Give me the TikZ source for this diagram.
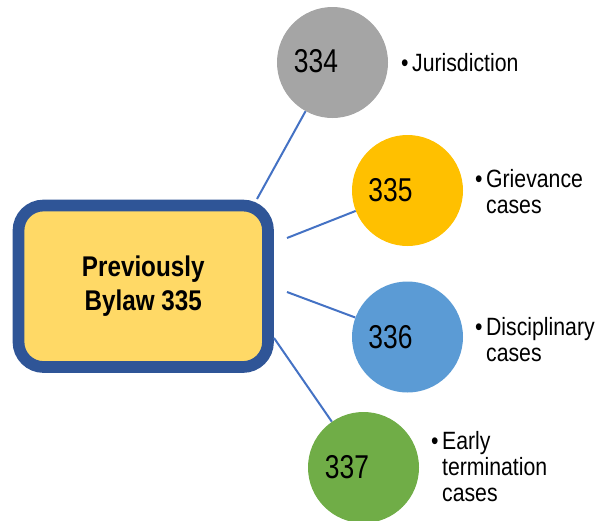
\documentclass[tikz,border=0pt]{standalone}
\usepackage{fontspec}
\setmainfont[FakeStretch=0.85]{Liberation Sans}
\newfontfamily\numfont[FakeStretch=0.8]{Liberation Sans}
\definecolor{boxborder}{HTML}{2F5597}
\definecolor{boxfill}{HTML}{FFD966}
\definecolor{linkblue}{HTML}{4472C4}
\definecolor{cgray}{HTML}{A5A5A5}
\definecolor{cyellow}{HTML}{FFC000}
\definecolor{cblue}{HTML}{5B9BD5}
\definecolor{cgreen}{HTML}{70AD47}
\tikzset{
  mainbox/.style={draw=boxborder, fill=boxfill, line width=11.7pt, rounded corners=25pt,
    rectangle, minimum width=249.5pt, minimum height=161.5pt, inner sep=0pt,
    font=\bfseries\fontsize{28.5}{34}\selectfont, align=center},
  ball/.style={circle, draw=none, minimum size=111pt, inner sep=0pt},
  num/.style={anchor=base, inner sep=0pt, font=\numfont\fontsize{33}{33}\selectfont},
  bul/.style={anchor=base west, inner sep=0pt, font=\fontsize{25}{26}\selectfont},
  link/.style={draw=linkblue, line width=2pt}
}
\newcommand{\bitem}[1]{\begin{tabular}[t]{@{}l@{\hspace{3.5pt}}l@{}}\textbullet & #1\end{tabular}}
\begin{document}
\begin{tikzpicture}[x=1pt,y=-1pt]
\useasboundingbox (0,0) rectangle (600,520);
% circles
\node[ball, fill=cgray]   (c334) at (332.5,62.5) {};
\node[ball, fill=cyellow] (c335) at (407.5,190.5) {};
\node[ball, fill=cblue]   (c336) at (407.5,337) {};
\node[ball, fill=cgreen]  (c337) at (363.5,467.5) {};
% numbers
\node[num] (n334) at (316,72) {334};
\node[num] (n335) at (390.5,201) {335};
\node[num] (n336) at (390.5,348) {336};
\node[num] (n337) at (347,478) {337};
% main box
\node[mainbox] (box) at (143.25,286.25) {Previously\\Bylaw 335};
% connectors
\coordinate (s1) at (257,199);
\coordinate (s2) at (287,238);
\coordinate (s3) at (287,292);
\coordinate (s4) at (274,338);
\draw[link] (s1) -- (c334);
\draw[link] (s2) -- (c335);
\draw[link] (s3) -- (c336);
\draw[link] (s4) -- (c337);
% bullet texts
\node[bul] (t334) at (401,71) {\bitem{Jurisdiction}};
\node[bul] (t335) at (475,187) {\bitem{Grievance\\ & cases}};
\node[bul] (t336) at (475,335) {\bitem{Disciplinary\\ & cases}};
\node[bul] (t337) at (431,449) {\bitem{Early\\ & termination\\ & cases}};
\end{tikzpicture}
\end{document}
